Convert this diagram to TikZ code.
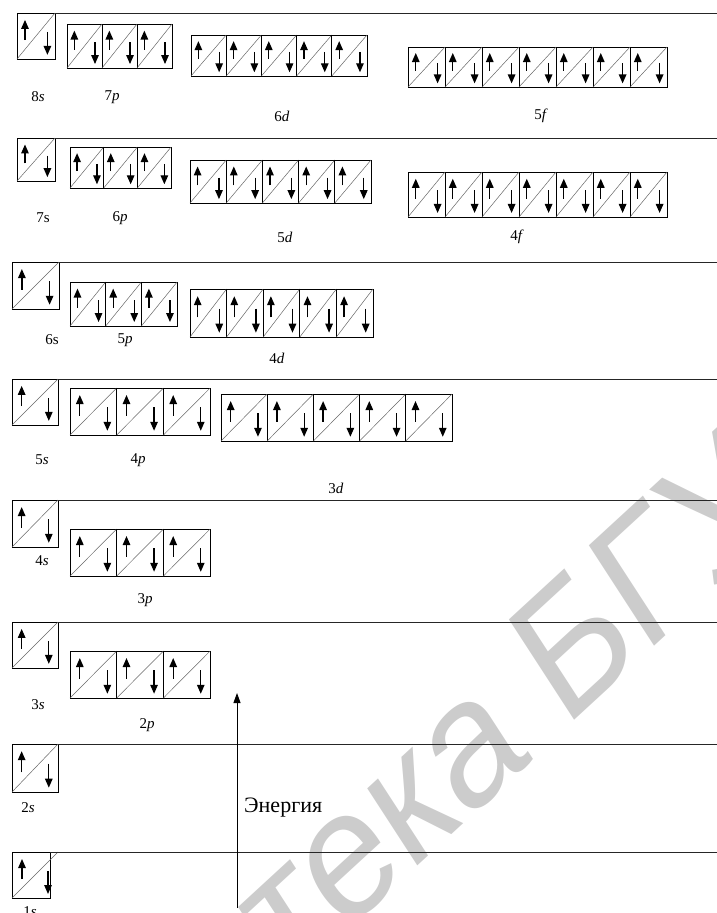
\documentclass[tikz,border=0pt]{standalone}
\usepackage{fontspec}
\setmainfont{Liberation Serif}
\newfontfamily\wmfont{Liberation Sans}
\usetikzlibrary{arrows.meta,calc}
\tikzset{
  orbcell/.style={draw,line width=0.9pt,inner sep=0pt,outer sep=0pt},
  diag/.style={black!60,line width=0.5pt},
  spin/.style={-{Triangle[length=9pt,width=7.5pt]},line width=1.3pt},
  level/.style={line width=0.8pt,black!85},
  sublabel/.style={font=\fontsize{15}{15}\selectfont,inner sep=0pt},
  flow/.style={-{Triangle[length=10pt,width=7pt]},line width=0.9pt},
  wmark/.style={font=\wmfont\fontsize{155}{155}\selectfont,text=black!20,inner sep=0pt}
}
% one sublevel: name, x, y (top left), cell width, cell height, cells
\newcommand\sublevel[6]{%
  \foreach \i in {1,...,#6} {
    \node[orbcell,minimum width=#4pt,minimum height=#5pt,anchor=north west]
      (#1-\i) at ({#2+(\i-1)*#4},#3) {};
    \draw[diag] (#1-\i.south west) -- (#1-\i.north east);
    \draw[spin] ($(#1-\i.north west)+({0.21*#4},{0.59*#5})$) -- ++(0,{-0.44*#5});
    \draw[spin] ($(#1-\i.north west)+({0.80*#4},{0.41*#5})$) -- ++(0,{0.50*#5});
  }
}

\begin{document}
\begin{tikzpicture}[x=1pt,y=-1pt]
  \useasboundingbox (0,0) rectangle (717,913);
  \coordinate (edge) at (717,0);
  % Watermark
  \coordinate (wmPosA) at (534,759);
  \coordinate (wmPosB) at (564,729);
  \begin{scope}[yscale=1.19]
    \node[wmark,transform shape,rotate=37.7,anchor=base east] (wmA) at (wmPosA) {Библиотека\ };
    \node[wmark,transform shape,rotate=37.7,anchor=base west] (wmB) at (wmPosB) {БГУИР};
  \end{scope}
  % n+l = 8
  \sublevel{s8}{17}{13}{38}{46}{1}
  \sublevel{p7}{67}{24}{35}{44}{3}
  \sublevel{d6}{191}{35}{35.2}{41}{5}
  \sublevel{f5}{408}{47}{37}{40}{7}
  \draw[level] (s8-1.north east) -- (s8-1.north east -| edge);
  \node[sublabel] (l8s) at (38,97) {8\textit{s}};
  \node[sublabel] (l7p) at (112,97) {7\textit{p}};
  \node[sublabel] (l6d) at (282,116) {6\textit{d}};
  \node[sublabel] (l5f) at (541,116) {5\textit{f}};
  % n+l = 7
  \sublevel{s7}{17}{138}{38}{43}{1}
  \sublevel{p6}{70}{147}{33.7}{41}{3}
  \sublevel{d5}{190}{160}{36.2}{43}{5}
  \sublevel{f4}{408}{172}{37}{45}{7}
  \draw[level] (s7-1.north east) -- (s7-1.north east -| edge);
  \node[sublabel] (l7s) at (43,218) {7s};
  \node[sublabel] (l6p) at (120,218) {6\textit{p}};
  \node[sublabel] (l5d) at (285,237) {5\textit{d}};
  \node[sublabel] (l4f) at (517,237) {4\textit{f}};
  % n+l = 6
  \sublevel{s6}{12}{262}{47}{47}{1}
  \sublevel{p5}{70}{282}{35.7}{44}{3}
  \sublevel{d4}{190}{289}{36.6}{48}{5}
  \draw[level] (s6-1.north east) -- (s6-1.north east -| edge);
  \node[sublabel] (l6s) at (52,340) {6s};
  \node[sublabel] (l5p) at (125,340) {5\textit{p}};
  \node[sublabel] (l4d) at (277,358) {4\textit{d}};
  % n+l = 5
  \sublevel{s5}{12}{379}{46}{46}{1}
  \sublevel{p4}{70}{388}{46.7}{47}{3}
  \sublevel{d3}{221}{394}{46.2}{47}{5}
  \draw[level] (s5-1.north east) -- (s5-1.north east -| edge);
  \node[sublabel] (l5s) at (42,460) {5\textit{s}};
  \node[sublabel] (l4p) at (138,460) {4\textit{p}};
  \node[sublabel] (l3d) at (336,488) {3\textit{d}};
  % n+l = 4
  \sublevel{s4}{12}{500}{46}{47}{1}
  \sublevel{p3}{70}{529}{46.7}{47}{3}
  \draw[level] (s4-1.north east) -- (s4-1.north east -| edge);
  \node[sublabel] (l4s) at (42,561) {4\textit{s}};
  \node[sublabel] (l3p) at (145,600) {3\textit{p}};
  % n+l = 3
  \sublevel{s3}{12}{622}{46}{46}{1}
  \sublevel{p2}{70}{651}{46.7}{47}{3}
  \draw[level] (s3-1.north east) -- (s3-1.north east -| edge);
  \node[sublabel] (l3s) at (38,705) {3\textit{s}};
  \node[sublabel] (l2p) at (147,725) {2\textit{p}};
  % n+l = 2
  \sublevel{s2}{12}{744}{46}{48}{1}
  \draw[level] (s2-1.north east) -- (s2-1.north east -| edge);
  \node[sublabel] (l2s) at (28,808) {2\textit{s}};
  % n+l = 1 (narrow box)
  \node[orbcell,minimum width=38pt,minimum height=46pt,anchor=north west] (s1-1) at (12,852) {};
  \coordinate (s1tip) at ($(s1-1.north west)+(46,0)$);
  \draw[diag] (s1-1.south west) -- (s1tip);
  \draw[spin] ($(s1-1.north west)+(10,27)$) -- ++(0,-20);
  \draw[spin] ($(s1-1.north west)+(36,19)$) -- ++(0,23);
  \draw[level] (s1-1.north east) -- (s1-1.north east -| edge);
  \node[sublabel] (l1s) at (30,912) {1\textit{s}};
  % Energy axis
  \coordinate (eBase) at (237,908);
  \coordinate (eTip) at (237,693);
  \draw[flow] (eBase) -- (eTip);
  \node[font=\fontsize{22}{22}\selectfont,anchor=west,inner sep=0pt] (energy) at (244,808) {Энергия};
\end{tikzpicture}
\end{document}
